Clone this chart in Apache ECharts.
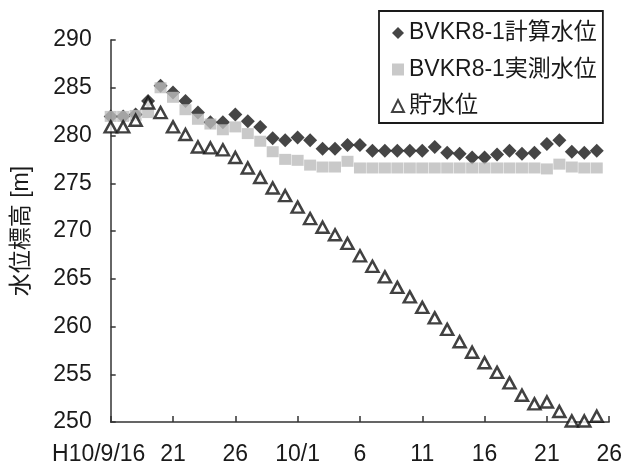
<!DOCTYPE html>
<html>
<head>
<meta charset="utf-8">
<script src="https://cdn.jsdelivr.net/npm/echarts@6/dist/echarts.min.js"></script>
<style>
html,body{margin:0;padding:0;background:#fff;}
#c{width:625px;height:468px;}
</style>
</head>
<body>
<div id="c"></div>
<script>
// Tick labels every 5 days starting H10/9/16 (day index 0)
var tickLabels = ['H10/9/16', '21', '26', '10/1', '6', '11', '16', '21', '26'];
// Daily values, day 0 = 9/16 ... day 39 = 10/25
var calcLevel = [282.0, 282.0, 282.2, 283.6, 285.2, 284.5, 283.6, 282.4, 281.4, 281.4,
                 282.2, 281.5, 280.9, 279.7, 279.5, 279.8, 279.5, 278.6, 278.6, 279.0,
                 279.0, 278.4, 278.4, 278.4, 278.4, 278.4, 278.8, 278.2, 278.1, 277.7,
                 277.7, 278.0, 278.4, 278.1, 278.2, 279.1, 279.5, 278.3, 278.2, 278.4];
var measLevel = [282.0, 282.0, 282.1, 282.4, 285.0, 284.0, 282.7, 281.7, 281.2, 280.6,
                 280.9, 280.2, 279.4, 278.3, 277.5, 277.4, 276.9, 276.7, 276.7, 277.3,
                 276.6, 276.6, 276.6, 276.6, 276.6, 276.6, 276.6, 276.6, 276.6, 276.6,
                 276.6, 276.6, 276.6, 276.6, 276.6, 276.5, 277.0, 276.7, 276.6, 276.6];
var resLevel  = [280.9, 280.9, 281.6, 283.4, 282.4, 280.9, 280.1, 278.8, 278.7, 278.5,
                 277.7, 276.6, 275.6, 274.5, 273.7, 272.5, 271.3, 270.4, 269.6, 268.7,
                 267.4, 266.3, 265.2, 264.1, 263.1, 262.0, 260.9, 259.7, 258.4, 257.3,
                 256.2, 255.2, 254.1, 252.8, 251.9, 252.1, 251.1, 250.1, 250.1, 250.6];
var seriesNames = ['BVKR8-1計算水位', 'BVKR8-1実測水位', '貯水位'];

function pairs(arr) { return arr.map(function (v, i) { return [i, v]; }); }

var FONT = "'Liberation Sans', 'Noto Sans CJK JP', sans-serif";
var chart = echarts.init(document.getElementById('c'), null, {renderer: 'canvas'});
chart.setOption({
  animation: false,
  backgroundColor: '#fff',
  textStyle: {fontFamily: FONT, color: '#222'},
  grid: {left: 110.7, right: 13.3, top: 40, bottom: 46, containLabel: false},
  legend: {
    data: seriesNames,
    orient: 'vertical',
    left: 379, top: 11,
    padding: [10, 6, 5, 12],
    itemGap: 12.5,
    itemWidth: 12, itemHeight: 12,
    borderColor: '#1a1a1a', borderWidth: 1.8,
    backgroundColor: '#fff',
    textStyle: {fontSize: 23, lineHeight: 24, color: '#1a1a1a', fontFamily: FONT}
  },
  xAxis: {
    type: 'value', min: 0, max: 40, interval: 5,
    axisLine: {show: true, onZero: false, lineStyle: {color: '#333', width: 1.5}},
    axisTick: {show: true, inside: true, length: 6, lineStyle: {color: '#333', width: 1.5}},
    splitLine: {show: false},
    axisLabel: {
      margin: 21, fontSize: 23, color: '#1a1a1a', fontFamily: FONT,
      formatter: function (v) {
        var s = tickLabels[Math.round(v / 5)];
        return v === 0 ? '{a|' + s + '}' : s;
      },
      rich: {a: {fontSize: 23, fontFamily: FONT, color: '#1a1a1a', padding: [0, 24, 0, 0]}}
    }
  },
  yAxis: {
    type: 'value', min: 250, max: 290, interval: 5,
    name: '水位標高 [m]', nameLocation: 'middle', nameRotate: 90, nameGap: 78,
    nameTextStyle: {fontSize: 23, color: '#1a1a1a', fontFamily: FONT},
    axisLine: {show: true, lineStyle: {color: '#333', width: 1.5}},
    axisTick: {show: true, inside: true, length: 5, lineStyle: {color: '#333', width: 1.5}},
    splitLine: {show: false},
    axisLabel: {margin: 19, fontSize: 23, color: '#1a1a1a', fontFamily: FONT}
  },
  series: [
    {
      name: seriesNames[0], type: 'scatter', symbol: 'diamond', symbolSize: [14, 14],
      itemStyle: {color: '#161616'},
      data: pairs(calcLevel), z: 2
    },
    {
      name: seriesNames[1], type: 'scatter', symbol: 'rect', symbolSize: [12, 11],
      itemStyle: {color: '#bcbcbc'},
      data: pairs(measLevel), z: 3
    },
    {
      name: seriesNames[2], type: 'scatter', symbol: 'triangle', symbolSize: [12, 11],
      itemStyle: {color: '#ffffff', borderColor: '#111', borderWidth: 2.5},
      data: pairs(resLevel), z: 4
    }
  ]
});
</script>
</body>
</html>
